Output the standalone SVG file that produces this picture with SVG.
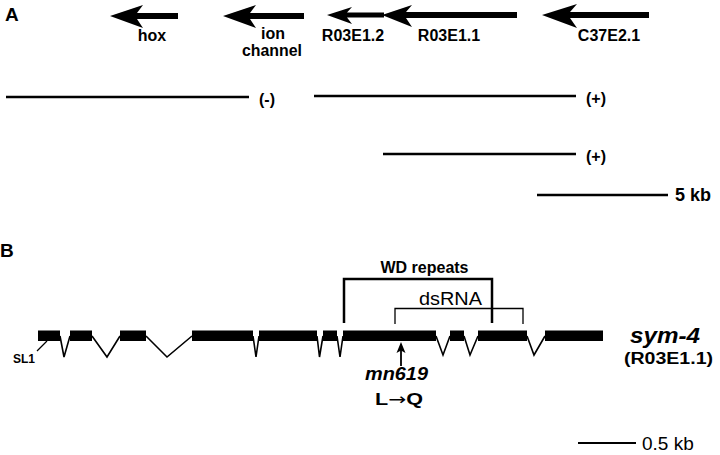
<svg xmlns="http://www.w3.org/2000/svg" width="720" height="455" viewBox="0 0 720 455">
<style>
text{font-family:"Liberation Sans",Arial,sans-serif;fill:#000}
.b{font-weight:bold}
.lbl{font-weight:bold;font-size:16px;text-anchor:middle}
.ln{stroke:#000;stroke-width:2.5;fill:none}
.ex{fill:#000}
.in{stroke:#000;stroke-width:1.6;fill:none;stroke-linejoin:miter}
.br{stroke:#000;stroke-width:2.5;fill:none}
.br2{stroke:#000;stroke-width:1.3;fill:none}
.ar{fill:#000}
</style>
<rect width="720" height="455" fill="#fff"/>
<text x="5" y="21" class="b" font-size="19">A</text>
<text x="0" y="257" class="b" font-size="19">B</text>

<g id="arrows-A">
  <g id="hox">
    <path class="ar" d="M110,16 L143,5 L137,13 L178,13 L178,19 L137,19 L143,28 Z"/>
    <text x="152" y="41" class="lbl">hox</text>
  </g>
  <g id="ion-channel">
    <path class="ar" d="M223,16 L256,5 L250,13 L304,13 L304,19 L250,19 L256,28 Z"/>
    <text x="273" y="38.5" class="lbl" font-size="15.5">ion</text>
    <text x="272" y="55.5" class="lbl" font-size="15.5" textLength="60" lengthAdjust="spacingAndGlyphs">channel</text>
  </g>
  <g id="R03E1.2">
    <path class="ar" d="M327,15 L352,7 L347,12.5 L384,12.5 L384,17.5 L347,17.5 L352,24 Z"/>
    <text x="353" y="41" class="lbl">R03E1.2</text>
  </g>
  <g id="R03E1.1">
    <path class="ar" d="M382,15 L412,5 L406,12 L517,12 L517,18 L406,18 L412,27 Z"/>
    <text x="449" y="41" class="lbl">R03E1.1</text>
  </g>
  <g id="C37E2.1">
    <path class="ar" d="M542,15 L577,4 L570,12 L649,12 L649,18 L570,18 L577,28 Z"/>
    <text x="609" y="41" class="lbl">C37E2.1</text>
  </g>
</g>

<g id="clones-A">
  <line class="ln" x1="6" y1="97" x2="249" y2="97"/>
  <text x="267" y="105" class="lbl" font-size="21">(-)</text>
  <line class="ln" x1="314" y1="96" x2="576" y2="96"/>
  <text x="596" y="104" class="lbl" font-size="21">(+)</text>
  <line class="ln" x1="383" y1="154" x2="576" y2="154"/>
  <text x="596" y="162" class="lbl" font-size="21">(+)</text>
  <line class="ln" x1="537" y1="195" x2="668" y2="195"/>
  <text x="675" y="201" class="b" font-size="18">5 kb</text>
</g>

<g id="brackets-B">
  <g id="wd-repeats">
    <path class="br" d="M344,323 L344,279 L492,279 L492,323"/>
    <text x="424.5" y="273" class="lbl" font-size="18">WD repeats</text>
  </g>
  <g id="dsRNA">
    <path class="br2" d="M395,324 L395,308.5 L523,308.5 L523,324"/>
    <text x="450.5" y="305" font-size="19" text-anchor="middle" textLength="63" lengthAdjust="spacingAndGlyphs">dsRNA</text>
  </g>
</g>

<g id="gene-B">
  <g id="introns">
    <path class="in" d="M60,336 L64,357 L70,336"/>
    <path class="in" d="M92,336 L107,357 L120,336"/>
    <path class="in" d="M146,336 L167,357 L192,336"/>
    <path class="in" d="M253,336 L256,357 L259,336"/>
    <path class="in" d="M317,336 L319.5,357 L323,336"/>
    <path class="in" d="M337,336 L340,357 L343,336"/>
    <path class="in" d="M436,336 L443,355 L450,336"/>
    <path class="in" d="M464,336 L470,355 L478,336"/>
    <path class="in" d="M527,336 L534,355 L545,336"/>
  </g>
  <g id="exons">
    <rect class="ex" x="38" y="330.5" width="22" height="10.5"/>
    <rect class="ex" x="70" y="330.5" width="22" height="10.5"/>
    <rect class="ex" x="120" y="330.5" width="26" height="10.5"/>
    <rect class="ex" x="192" y="330.5" width="61" height="10.5"/>
    <rect class="ex" x="259" y="330.5" width="58" height="10.5"/>
    <rect class="ex" x="323" y="330.5" width="14" height="10.5"/>
    <rect class="ex" x="343" y="330.5" width="93" height="10.5"/>
    <rect class="ex" x="450" y="330.5" width="14" height="10.5"/>
    <rect class="ex" x="478" y="330.5" width="49" height="10.5"/>
    <rect class="ex" x="545" y="330.5" width="58" height="10.5"/>
  </g>
  <g id="SL1">
    <line x1="37" y1="351" x2="47" y2="341" stroke="#000" stroke-width="1.3"/>
    <text x="13" y="363" class="b" font-size="12">SL1</text>
  </g>
  <g id="mn619">
    <line x1="401" y1="366" x2="401" y2="350" stroke="#000" stroke-width="1.8"/>
    <path class="ar" d="M401,342 L405.5,353 L401,350.5 L396.5,353 Z"/>
    <text x="396.5" y="380" class="b" font-style="italic" font-size="18" text-anchor="middle" textLength="63" lengthAdjust="spacingAndGlyphs">mn619</text>
    <text x="399" y="405" class="lbl" font-size="18" textLength="48" lengthAdjust="spacingAndGlyphs">L<tspan font-family="'DejaVu Sans',sans-serif" font-weight="normal">→</tspan>Q</text>
  </g>
  <g id="sym-4">
    <text x="665" y="343" class="b" font-style="italic" font-size="22" text-anchor="middle" textLength="70" lengthAdjust="spacingAndGlyphs">sym-4</text>
    <text x="668.5" y="364" class="lbl" font-size="17" textLength="89" lengthAdjust="spacingAndGlyphs">(R03E1.1)</text>
  </g>
</g>

<g id="scale-B">
  <line x1="578" y1="443" x2="636" y2="443" stroke="#000" stroke-width="2.2"/>
  <text x="642" y="450" font-size="19">0.5 kb</text>
</g>
</svg>
